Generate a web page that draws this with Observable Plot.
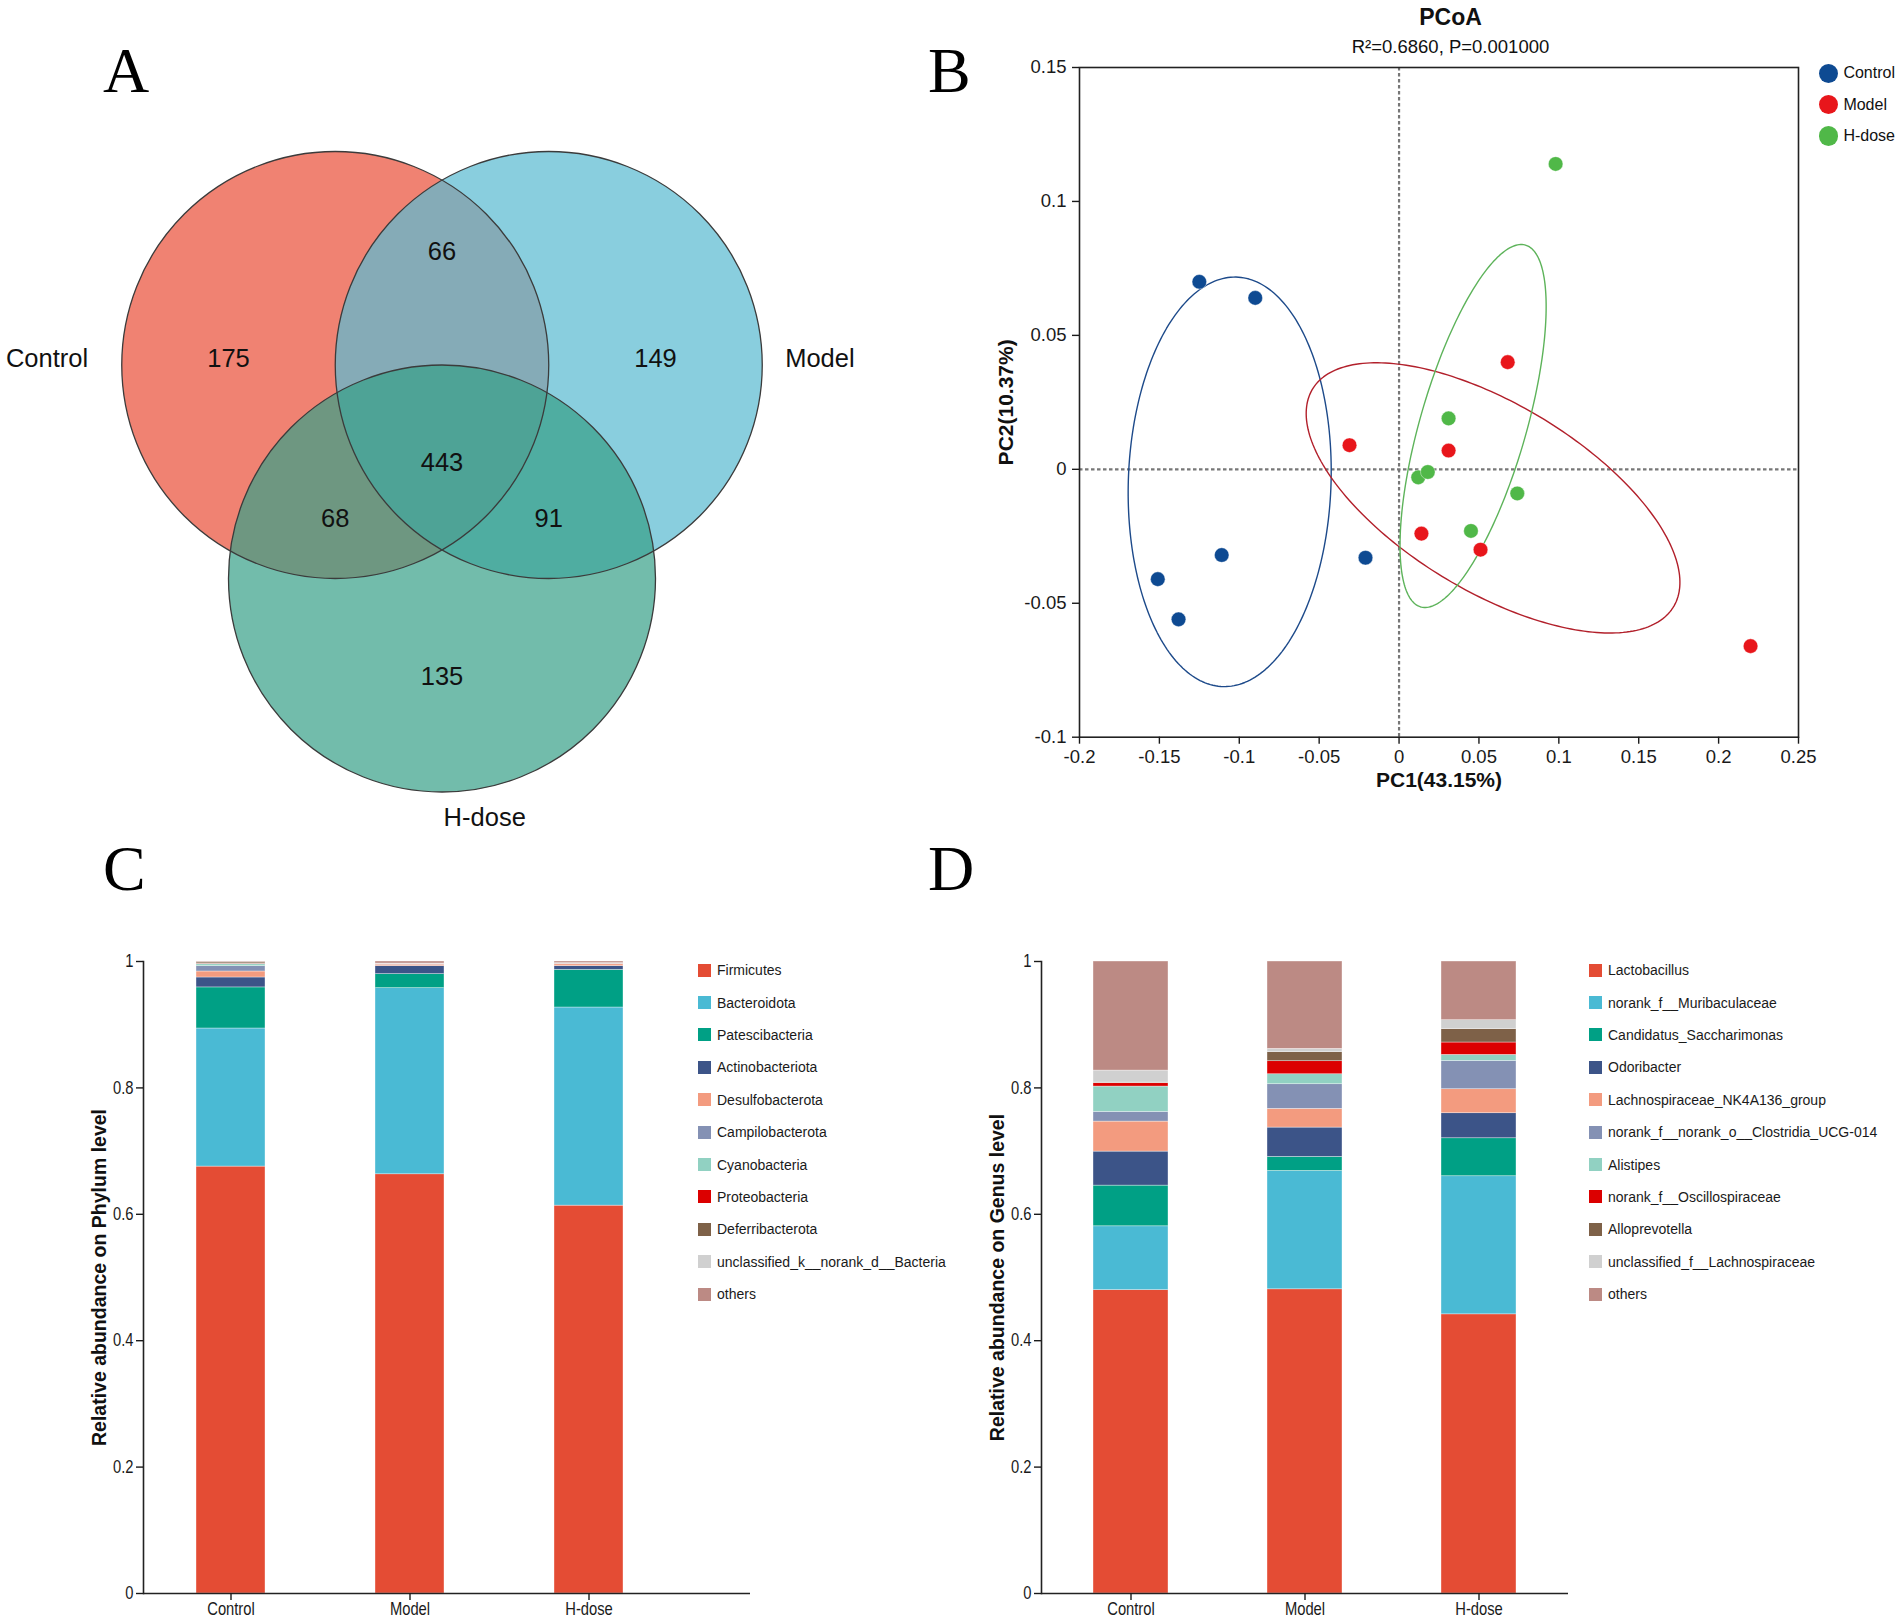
<!DOCTYPE html>
<html><head><meta charset="utf-8">
<script src="https://cdn.jsdelivr.net/npm/d3@7"></script>
<script src="https://cdn.jsdelivr.net/npm/@observablehq/plot@0.6"></script>
<style>
body{margin:0;background:#fff;font-family:"Liberation Sans",Arial,sans-serif;}
#page{position:relative;width:1902px;height:1624px;overflow:hidden;background:#fff;}
.panel{position:absolute;}
.letter{position:absolute;font-family:"Liberation Serif","Times New Roman",serif;font-size:64px;line-height:1;color:#000;}
.legend{position:absolute;font-family:"Liberation Sans",Arial,sans-serif;font-size:14px;color:#1a1a1a;}
.legend .item{display:flex;align-items:center;height:32.4px;white-space:nowrap;}
.legend .sw{width:13px;height:13px;margin-right:6px;flex:none;}
.plegend{position:absolute;font-family:"Liberation Sans",Arial,sans-serif;font-size:16px;color:#111;}
.plegend .item{display:flex;align-items:center;height:31.4px;white-space:nowrap;}
.plegend .dot{width:19.4px;height:19.4px;border-radius:50%;margin-right:5px;flex:none;}
</style></head>
<body><div id="page"></div>
<script>
// ---------------- DATA ----------------
const groups = ["Control", "Model", "H-dose"];

// Venn (A): OTU counts per region
const vennSets = ["Control", "Model", "H-dose"];
const vennRegions = ["Control only", "Model only", "H-dose only", "Control∩Model", "Control∩H-dose", "Model∩H-dose", "All three"];
const vennCounts = [175, 149, 135, 66, 68, 91, 443];

// PCoA (B)
const pcoaGroup = ["Control","Control","Control","Control","Control","Control",
                   "Model","Model","Model","Model","Model","Model",
                   "H-dose","H-dose","H-dose","H-dose","H-dose","H-dose"];
const pc1 = [-0.125, -0.090, -0.151, -0.138, -0.111, -0.021,
             -0.031, 0.068, 0.031, 0.014, 0.051, 0.220,
             0.098, 0.031, 0.012, 0.018, 0.074, 0.045];
const pc2 = [0.070, 0.064, -0.041, -0.056, -0.032, -0.033,
             0.009, 0.040, 0.007, -0.024, -0.030, -0.066,
             0.114, 0.019, -0.003, -0.001, -0.009, -0.023];
const pc1Ticks = [-0.2, -0.15, -0.1, -0.05, 0, 0.05, 0.1, 0.15, 0.2, 0.25];
const pc2Ticks = [-0.1, -0.05, 0, 0.05, 0.1, 0.15];
const pcoaTitle = "PCoA";
const pcoaSubtitle = "R²=0.6860, P=0.001000";
const pc1Label = "PC1(43.15%)";
const pc2Label = "PC2(10.37%)";

// Phylum (C)
const phylumTaxa = ["Firmicutes","Bacteroidota","Patescibacteria","Actinobacteriota","Desulfobacterota",
  "Campilobacterota","Cyanobacteria","Proteobacteria","Deferribacterota","unclassified_k__norank_d__Bacteria","others"];
const phylumControl = [0.6755, 0.2185, 0.0650, 0.0157, 0.0095, 0.0084, 0.0030, 0.0008, 0.0020, 0.0006, 0.0010];
const phylumModel   = [0.6633, 0.2945, 0.0222, 0.0126, 0.0025, 0.0005, 0.0005, 0.0003, 0.0002, 0.0002, 0.0032];
const phylumHdose   = [0.6137, 0.3135, 0.0596, 0.0058, 0.0030, 0.0005, 0.0005, 0.0003, 0.0003, 0.0002, 0.0026];

// Genus (D)
const genusTaxa = ["Lactobacillus","norank_f__Muribaculaceae","Candidatus_Saccharimonas","Odoribacter",
  "Lachnospiraceae_NK4A136_group","norank_f__norank_o__Clostridia_UCG-014","Alistipes","norank_f__Oscillospiraceae",
  "Alloprevotella","unclassified_f__Lachnospiraceae","others"];
const genusControl = [0.4800, 0.1010, 0.0644, 0.0538, 0.0475, 0.0153, 0.0401, 0.0053, 0.0010, 0.0190, 0.1726];
const genusModel   = [0.4813, 0.1873, 0.0222, 0.0464, 0.0296, 0.0390, 0.0158, 0.0206, 0.0143, 0.0052, 0.1383];
const genusHdose   = [0.4417, 0.2185, 0.0601, 0.0396, 0.0380, 0.0448, 0.0095, 0.0196, 0.0211, 0.0142, 0.0929];

const abundanceTicks = [0, 0.2, 0.4, 0.6, 0.8, 1];

// ---------------- STYLE / LAYOUT ----------------
const taxaColors = ["#E44C34","#4ABAD4","#00A085","#3C5488","#F39B7F","#8491B4","#91D1C2","#DC0000","#7E6148","#D0D0D0","#BC8A84"];
const groupColors = ["#0E4A92","#E8161B","#50B848"];
const ellipseColors = ["#1D4A8A","#B2202B","#5DB35A"];
const vennFills = ["#F08272","#5CBBD1","#369F88"];
const vennOpacity = [1, 0.72, 0.70];
const ellipseScale = 1.36;

const page = document.getElementById("page");
function place(node, left, top) {
  const w = document.createElement("div");
  w.className = "panel"; w.style.left = left + "px"; w.style.top = top + "px";
  w.appendChild(node); page.appendChild(w); return w;
}
function letter(t, left, top) {
  const d = document.createElement("div"); d.className = "letter"; d.textContent = t;
  d.style.left = left + "px"; d.style.top = top + "px"; page.appendChild(d);
}
// narrow tick labels (condensed look of the original)
function condenseTicks(svg, sx) {
  svg.querySelectorAll('g[aria-label="x-axis tick label"] text, g[aria-label="y-axis tick label"] text').forEach(t => {
    if (t.hasAttribute("x")) return;
    const tr = t.getAttribute("transform") || "";
    t.setAttribute("transform", tr + ` scale(${sx},1)`);
  });
  return svg;
}

// ---------------- A: Venn ----------------
{
  const R = 213.5;             // circle radius in px (1 layout unit)
  const W = 900, H = 850, cx0 = 441.5, cy0 = 364.5;
  // layout positions in radius units (not data)
  const setU = [-0.5, 0.5, 0], setV = [0, 0, -1];
  const regionU = [-1.0, 1.0, 0, 0, -0.5, 0.5, 0];
  const regionV = [0.03, 0.03, -1.46, 0.53, -0.72, -0.72, -0.46];
  const setLabelU = [-1.85, 1.77, 0.2], setLabelV = [0.03, 0.03, -2.12];
  const sets = vennSets.map((s, i) => ({set: s, u: setU[i], v: setV[i], lu: setLabelU[i], lv: setLabelV[i]}));
  const regions = vennRegions.map((r, i) => ({region: r, count: vennCounts[i], u: regionU[i], v: regionV[i]}));
  const marks = [];
  sets.forEach((s, i) => marks.push(Plot.dot([s], {x: "u", y: "v", r: R, fill: vennFills[i], fillOpacity: vennOpacity[i], stroke: null})));
  marks.push(Plot.dot(sets, {x: "u", y: "v", r: R, fill: "none", stroke: "#3b3b3b", strokeWidth: 1.3}));
  marks.push(Plot.text(regions, {x: "u", y: "v", text: d => String(d.count), fontSize: 25.5, fill: "#111"}));
  marks.push(Plot.text(sets, {x: "lu", y: "lv", text: "set", fontSize: 25.5, fill: "#111"}));
  const svg = Plot.plot({
    width: W, height: H, margin: 0,
    x: {type: "linear", domain: [-cx0 / R, (W - cx0) / R], axis: null},
    y: {type: "linear", domain: [-(H - cy0) / R, cy0 / R], axis: null},
    style: {fontFamily: "Liberation Sans, Arial, sans-serif", background: "transparent", overflow: "visible"},
    marks
  });
  place(svg, 0, 0);
}

// ---------------- B: PCoA ----------------
function ellipsePoints(xs, ys, k, n = 240) {
  const mx = d3.mean(xs), my = d3.mean(ys), m = xs.length;
  let sxx = 0, syy = 0, sxy = 0;
  for (let i = 0; i < m; i++) { const dx = xs[i] - mx, dy = ys[i] - my; sxx += dx * dx; syy += dy * dy; sxy += dx * dy; }
  sxx /= (m - 1); syy /= (m - 1); sxy /= (m - 1);
  const tr = sxx + syy, det = sxx * syy - sxy * sxy;
  const disc = Math.sqrt(Math.max(0, tr * tr / 4 - det));
  const l1 = tr / 2 + disc, l2 = Math.max(0, tr / 2 - disc);
  const th = 0.5 * Math.atan2(2 * sxy, sxx - syy);
  const pts = [];
  for (let j = 0; j <= n; j++) {
    const t = 2 * Math.PI * j / n;
    const ex = k * Math.sqrt(l1) * Math.cos(t), ey = k * Math.sqrt(l2) * Math.sin(t);
    pts.push({x: mx + ex * Math.cos(th) - ey * Math.sin(th), y: my + ex * Math.sin(th) + ey * Math.cos(th)});
  }
  return pts;
}
{
  const samples = pcoaGroup.map((g, i) => ({group: g, pc1: pc1[i], pc2: pc2[i]}));
  const marks = [
    Plot.ruleX([0], {stroke: "#777", strokeWidth: 2.2, strokeDasharray: "3.5,2.5"}),
    Plot.ruleY([0], {stroke: "#777", strokeWidth: 2.2, strokeDasharray: "3.5,2.5"})
  ];
  groups.forEach((g, gi) => {
    const s = samples.filter(d => d.group === g);
    marks.push(Plot.line(ellipsePoints(s.map(d => d.pc1), s.map(d => d.pc2), ellipseScale), {x: "x", y: "y", stroke: ellipseColors[gi], strokeWidth: 1.4}));
  });
  marks.push(
    Plot.dot(samples, {x: "pc1", y: "pc2", fill: "group", r: 7.3, stroke: "white", strokeWidth: 0.4}),
    Plot.frame({stroke: "#222", strokeWidth: 1.6}),
    Plot.axisX({ticks: pc1Ticks, tickFormat: d => String(d), tickSize: 7, tickPadding: 6, label: null, fontSize: 18.5, strokeWidth: 1.4}),
    Plot.axisY({ticks: pc2Ticks, tickFormat: d => String(d), tickSize: 7, tickPadding: 6, label: null, fontSize: 18.5, strokeWidth: 1.4}),
    Plot.text([pcoaTitle], {frameAnchor: "top", lineAnchor: "middle", textAnchor: "middle", dx: 11.5, dy: -49.4, fontWeight: "bold", fontSize: 23, fill: "#111"}),
    Plot.text([pcoaSubtitle], {frameAnchor: "top", lineAnchor: "middle", textAnchor: "middle", dx: 11.5, dy: -20.2, fontSize: 18.5, fill: "#111"}),
    Plot.text([pc1Label], {frameAnchor: "bottom", lineAnchor: "middle", textAnchor: "middle", dy: 43.3, fontWeight: "bold", fontSize: 21, fill: "#111"}),
    Plot.text([pc2Label], {frameAnchor: "left", lineAnchor: "middle", textAnchor: "middle", dx: -73.4, rotate: -90, fontWeight: "bold", fontSize: 21, fill: "#111"})
  );
  const svg = Plot.plot({
    width: 952, height: 800, marginLeft: 129, marginRight: 104, marginTop: 67, marginBottom: 63.3,
    x: {domain: [-0.2, 0.25]},
    y: {domain: [-0.1, 0.15]},
    color: {domain: groups, range: groupColors},
    style: {fontFamily: "Liberation Sans, Arial, sans-serif", fontSize: "18.5px", color: "#1a1a1a", background: "transparent", overflow: "visible"},
    marks
  });
  place(svg, 950, 0);
  const lg = document.createElement("div"); lg.className = "plegend";
  lg.style.left = "1819px"; lg.style.top = "57.6px";
  groups.forEach((g, i) => {
    const it = document.createElement("div"); it.className = "item";
    it.innerHTML = `<span class="dot" style="background:${groupColors[i]}"></span><span>${g}</span>`;
    lg.appendChild(it);
  });
  page.appendChild(lg);
}

// ---------------- C & D: stacked bars ----------------
function stacked(taxa, series, ylabel, o) {
  const rows = [];
  groups.forEach((g, gi) => taxa.forEach((t, ti) => rows.push({group: g, taxon: t, value: series[gi][ti]})));
  const svg = Plot.plot({
    width: o.width, height: 694, marginLeft: o.marginLeft, marginRight: 10, marginTop: 31, marginBottom: 31,
    x: {domain: groups, paddingInner: o.paddingInner, paddingOuter: o.paddingOuter, align: o.align, label: null},
    y: {domain: [0, 1], label: null},
    color: {domain: taxa, range: taxaColors},
    style: {fontFamily: "Liberation Sans, Arial, sans-serif", fontSize: "18px", color: "#1a1a1a", background: "transparent", overflow: "visible"},
    marks: [
      Plot.barY(rows, {x: "group", y: "value", fill: "taxon", stroke: "#fff", strokeWidth: 0.6, strokeOpacity: 0.6}),
      Plot.frame({anchor: "left", stroke: "#222", strokeWidth: 1.6}),
      Plot.ruleY([0], {stroke: "#222", strokeWidth: 1.6}),
      Plot.axisY({ticks: abundanceTicks, tickFormat: d => String(d), tickSize: 7, tickPadding: 3, label: null, strokeWidth: 1.4}),
      Plot.axisX({tickSize: 7, tickPadding: 2, label: null, strokeWidth: 1.4}),
      Plot.text([ylabel], {frameAnchor: "left", lineAnchor: "middle", textAnchor: "middle", dx: o.labelDx, rotate: -90, fontWeight: "bold", fontSize: 19.5, fontFamily: "Liberation Sans, Arial, sans-serif", fill: "#111"})
    ]
  });
  return condenseTicks(svg, 0.82);
}
function legend(taxa, left, top) {
  const lg = document.createElement("div"); lg.className = "legend";
  lg.style.left = left + "px"; lg.style.top = top + "px";
  taxa.forEach((t, i) => {
    const it = document.createElement("div"); it.className = "item";
    it.innerHTML = `<span class="sw" style="background:${taxaColors[i]}"></span><span>${t}</span>`;
    lg.appendChild(it);
  });
  page.appendChild(lg);
}
place(stacked(phylumTaxa, [phylumControl, phylumModel, phylumHdose], "Relative abundance on Phylum level",
  {width: 760, marginLeft: 143, paddingInner: 0.614, paddingOuter: 0.5, align: 0.295, labelDx: -43.5}), 0, 930);
legend(phylumTaxa, 698, 954);
place(stacked(genusTaxa, [genusControl, genusModel, genusHdose], "Relative abundance on Genus level",
  {width: 628, marginLeft: 91, paddingInner: 0.57, paddingOuter: 0.295, align: 0.5, labelDx: -44}), 950, 930);
legend(genusTaxa, 1589, 954);

letter("A", 103, 39);
letter("B", 928, 39);
letter("C", 103, 837);
letter("D", 928, 837);
</script>
</body></html>
